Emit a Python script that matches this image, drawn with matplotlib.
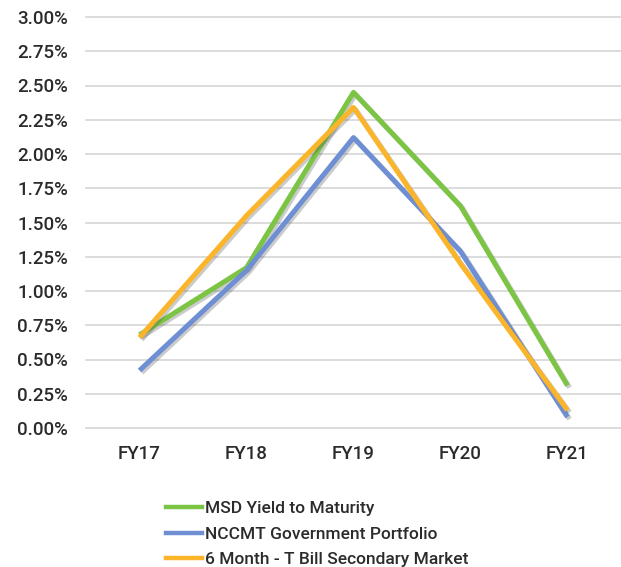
import matplotlib
matplotlib.use("Agg")
import matplotlib.pyplot as plt
import matplotlib.patheffects as pe
from matplotlib.ticker import FuncFormatter, MultipleLocator

years = ["FY17", "FY18", "FY19", "FY20", "FY21"]
msd_ytm = [0.68, 1.17, 2.45, 1.62, 0.31]
nccmt_gov = [0.42, 1.15, 2.12, 1.29, 0.08]
tbill_6m = [0.66, 1.55, 2.34, 1.20, 0.13]

series = [
    ("MSD Yield to Maturity", msd_ytm, "#7cc444"),
    ("NCCMT Government Portfolio", nccmt_gov, "#6f8fd4"),
    ("6 Month - T Bill Secondary Market", tbill_6m, "#fbb52a"),
]

plt.rcParams["font.family"] = ["Roboto", "DejaVu Sans"]
plt.rcParams["font.weight"] = 500
text_color = "#2b2b2b"

fig = plt.figure(figsize=(6.21, 5.67), dpi=100)
ax = fig.add_axes([86 / 621, 1 - 428 / 567, 535 / 621, 411 / 567])

x = list(range(len(years)))
shadow = [pe.SimpleLineShadow(offset=(1.5, -1.5), alpha=0.3, shadow_color="#555555"),
          pe.Normal()]
handles = []
for label, vals, color in series:
    (ln,) = ax.plot(x, vals, color=color, lw=3.6, solid_capstyle="butt",
                    path_effects=shadow, label=label, zorder=3)
    handles.append(ln)

ax.set_xlim(-0.5, len(years) - 0.5)
ax.set_ylim(0, 3.0)
ax.yaxis.set_major_locator(MultipleLocator(0.25))
ax.yaxis.set_major_formatter(FuncFormatter(lambda v, _: f"{v:.2f}%"))
ax.set_xticks(x)
ax.set_xticklabels(years)
ax.grid(axis="y", color="#d9d9d9", lw=1.3, clip_on=False)
ax.set_axisbelow(True)
for s in ax.spines.values():
    s.set_visible(False)
ax.tick_params(length=0, colors=text_color, labelsize=13.5)
ax.tick_params(axis="y", pad=13)
ax.tick_params(axis="x", pad=12)

leg = fig.legend(handles=[plt.Line2D([], [], color=c, lw=3.2) for _, _, c in series],
                 labels=[l for l, _, _ in series],
                 loc="upper left", bbox_to_anchor=(166 / 621, 1 - 501 / 567),
                 frameon=False, handlelength=2.1, handletextpad=0.15,
                 labelspacing=0.6, borderaxespad=0, borderpad=0,
                 prop={"size": 12.5})
for t in leg.get_texts():
    t.set_color(text_color)

fig.savefig("out.png", dpi=100, facecolor="white")
